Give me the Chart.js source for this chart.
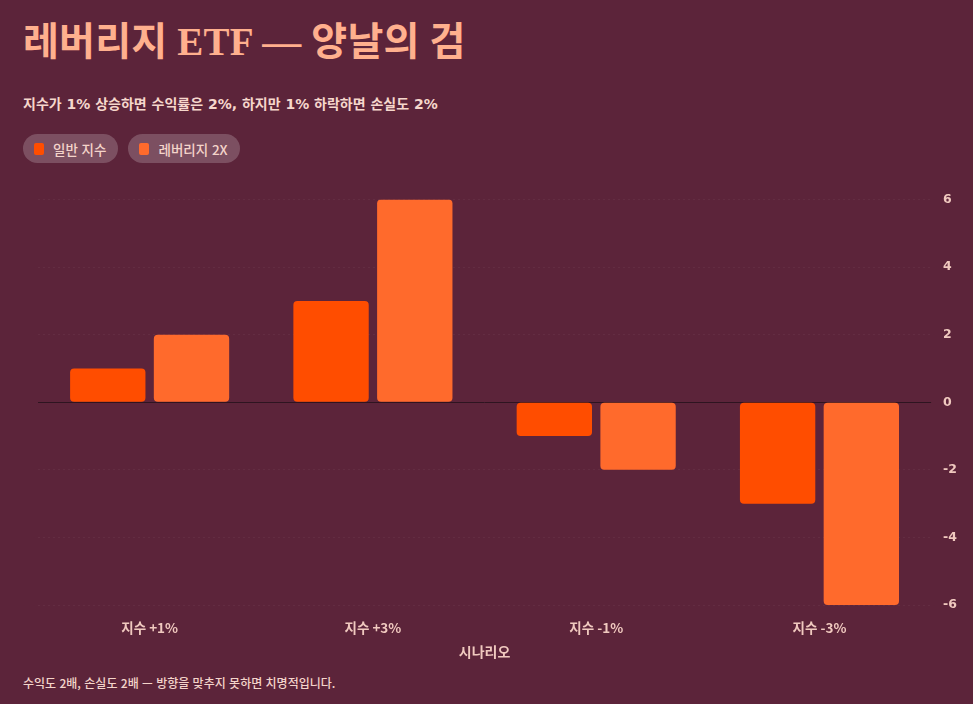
<!DOCTYPE html>
<html lang="ko">
<head>
<meta charset="utf-8">
<script src="https://cdn.jsdelivr.net/npm/chart.js@4/dist/chart.umd.min.js"></script>
<style>
  html, body { margin: 0; padding: 0; }
  body {
    width: 973px; height: 704px; overflow: hidden;
    background: #5c243a;
    font-family: "Noto Sans CJK KR", sans-serif;
    position: relative;
  }
  h1 {
    position: absolute; left: 23px; top: 10px; margin: 0;
    font-family: "Liberation Serif", "Noto Sans CJK KR", serif;
    font-size: 39px; font-weight: 700; color: #ffb08e; letter-spacing: 0.2px;
  }
  .sub {
    position: absolute; left: 23px; top: 93px; margin: 0;
    font-family: "DejaVu Sans", "Noto Sans CJK KR", sans-serif;
    font-size: 14px; font-weight: 700; color: #f6d7cc;
  }
  .legend { position: absolute; left: 23px; top: 134px; display: flex; gap: 10px; }
  .pill {
    display: flex; align-items: center; height: 29px; padding: 0 12px 0 11px;
    border-radius: 15px; background: rgba(255,255,255,0.2);
    font-size: 13.5px; font-weight: 500; color: #f4d4ca;
  }
  .pill i { display: inline-block; width: 10px; height: 12px; border-radius: 2px; margin-right: 9px; }
  .wrap { position: absolute; left: 24px; top: 180px; width: 945px; height: 484px; }
  .foot {
    position: absolute; left: 23px; top: 674px; margin: 0;
    font-size: 12px; font-weight: 500; color: #f4d4ca;
  }
</style>
</head>
<body>
<h1>레버리지 ETF — 양날의 검</h1>
<p class="sub">지수가 1% 상승하면 수익률은 2%, 하지만 1% 하락하면 손실도 2%</p>
<div class="legend" id="legend"></div>
<div class="wrap"><canvas id="chart"></canvas></div>
<p class="foot">수익도 2배, 손실도 2배 — 방향을 맞추지 못하면 치명적입니다.</p>
<script>
var categories = ["지수 +1%", "지수 +3%", "지수 -1%", "지수 -3%"]
var seriesNames = ["일반 지수", "레버리지 2X"]
var indexValues = [1, 3, -1, -3]
var leverageValues = [2, 6, -2, -6]
var seriesColors = ["#ff4d00", "#ff6a2c"]
var yTicks = [-6, -4, -2, 0, 2, 4, 6]

var legend = document.getElementById("legend")
seriesNames.forEach(function (name, i) {
  var pill = document.createElement("div")
  pill.className = "pill"
  pill.innerHTML = '<i style="background:' + seriesColors[i] + '"></i>' + name
  legend.appendChild(pill)
})

// zero line drawn over the grid using the y scale
var zeroLine = {
  id: "zeroLine",
  beforeDatasetsDraw: function (chart) {
    var y = chart.scales.y.getPixelForValue(0)
    var area = chart.chartArea
    var ctx = chart.ctx
    ctx.save()
    ctx.strokeStyle = "#2e1420"
    ctx.lineWidth = 1
    ctx.beginPath()
    ctx.moveTo(area.left, Math.round(y) + 0.5)
    ctx.lineTo(area.right, Math.round(y) + 0.5)
    ctx.stroke()
    ctx.restore()
  }
}

var xFont = { family: "'Noto Sans CJK KR', sans-serif", size: 13.5, weight: "600" }
var yFont = { family: "'DejaVu Sans', sans-serif", size: 12.5, weight: "600" }

var config = {
  type: "bar",
  data: {
    labels: categories,
    datasets: [
      {
        label: seriesNames[0],
        data: indexValues,
        backgroundColor: seriesColors[0],
        borderRadius: 4,
        borderSkipped: false
      },
      {
        label: seriesNames[1],
        data: leverageValues,
        backgroundColor: seriesColors[1],
        borderRadius: 4,
        borderSkipped: false
      }
    ]
  },
  plugins: [zeroLine],
  options: {
    responsive: true,
    maintainAspectRatio: false,
    animation: false,
    layout: { padding: { left: 14, right: 0, top: 8, bottom: 0 } },
    datasets: { bar: { categoryPercentage: 0.75, barPercentage: 0.9 } },
    plugins: {
      legend: { display: false },
      tooltip: { enabled: false }
    },
    scales: {
      x: {
        grid: { display: false },
        border: { display: false },
        ticks: { color: "#f0c9bf", font: xFont, padding: 7 },
        title: {
          display: true,
          text: "시나리오",
          color: "#f0c9bf",
          font: { family: "'Noto Sans CJK KR', sans-serif", size: 14, weight: "700" },
          padding: { top: 0 }
        }
      },
      y: {
        position: "right",
        min: -6,
        max: 6,
        afterBuildTicks: function (axis) {
          axis.ticks = yTicks.map(function (v) { return { value: v } })
        },
        grid: { color: "rgba(255,255,255,0.045)", drawTicks: false },
        border: { display: false, dash: [2, 3] },
        ticks: { color: "#f0c9bf", font: yFont, padding: 12 }
      }
    }
  }
}

var chart = new Chart(document.getElementById("chart"), config)
</script>
</body>
</html>
